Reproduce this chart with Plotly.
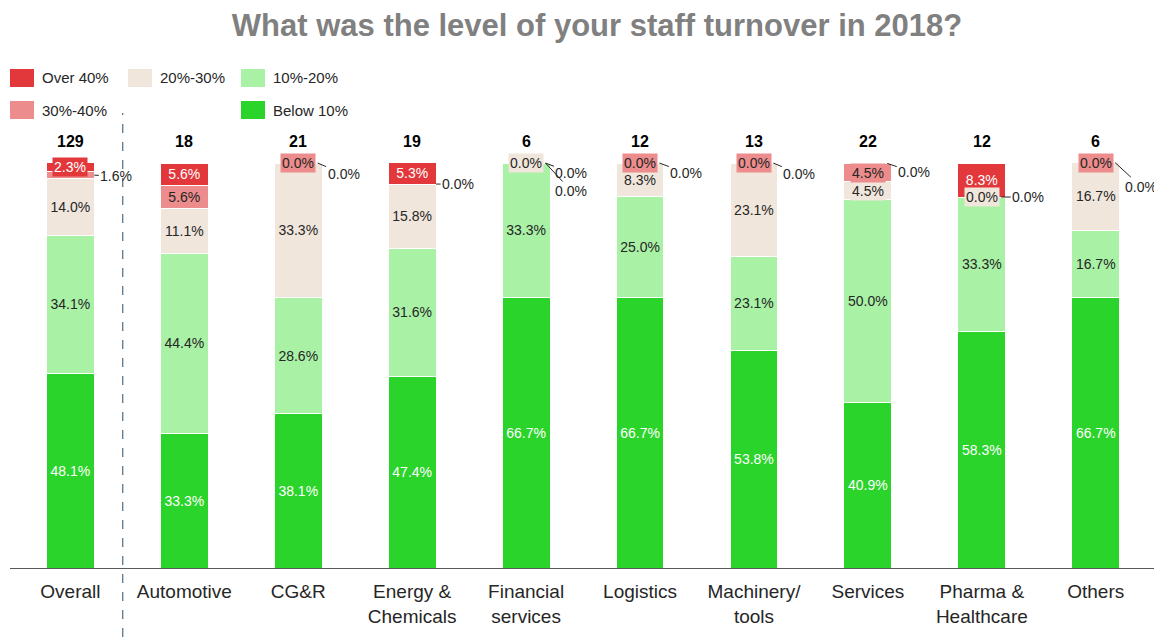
import numpy as np
import plotly.graph_objects as go

# ---------------- data ----------------
categories = ["Overall", "Automotive", "CG&R", "Energy &<br>Chemicals", "Financial<br>services",
              "Logistics", "Machinery/<br>tools", "Services", "Pharma &<br>Healthcare", "Others"]
counts = [129, 18, 21, 19, 6, 12, 13, 22, 12, 6]
below_10 = [48.1, 33.3, 38.1, 47.4, 66.7, 66.7, 53.8, 40.9, 58.3, 66.7]
p10_20 = [34.1, 44.4, 28.6, 31.6, 33.3, 25.0, 23.1, 50.0, 33.3, 16.7]
p20_30 = [14.0, 11.1, 33.3, 15.8, 0.0, 8.3, 23.1, 4.5, 0.0, 16.7]
p30_40 = [1.6, 5.6, 0.0, 0.0, 0.0, 0.0, 0.0, 4.5, 0.0, 0.0]
over_40 = [2.3, 5.6, 0.0, 5.3, 0.0, 0.0, 0.0, 0.0, 8.3, 0.0]

series_names = ["Below 10%", "10%-20%", "20%-30%", "30%-40%", "Over 40%"]
series_values = [below_10, p10_20, p20_30, p30_40, over_40]

# ---------------- styles ----------------
colors = {"Below 10%": "#2bd42b", "10%-20%": "#a9f1a5", "20%-30%": "#f1e6dc",
          "30%-40%": "#ed8c8c", "Over 40%": "#e2383c"}
text_colors = {"Below 10%": "#ffffff", "10%-20%": "#262626", "20%-30%": "#262626",
               "30%-40%": "#262626", "Over 40%": "#ffffff"}
FONT = "Liberation Sans, Arial, sans-serif"
DARK = "#262626"
OFF = 8                      # page body margin offset
W, H = 1162 - OFF, 637 - OFF
ML, MR, MT, MB = 2, 7, 92, 69
YMAX = 115.56
INSIDE_MIN = 5.0
LBL = 14

# small-label placement: (category index, series) -> ("box",) or ("out", tip_dx, ax, ay)
placements = {
    (0, "Over 40%"): ("box",),
    (0, "30%-40%"): ("out", 0.21, 22, 1),
    (2, "30%-40%"): ("box",),
    (2, "Over 40%"): ("out", 0.17, 26, 11),
    (3, "30%-40%"): ("out", 0.21, 22, 0),
    (4, "20%-30%"): ("box",),
    (4, "30%-40%"): ("out", 0.17, 26, 10),
    (4, "Over 40%"): ("out", 0.17, 26, 28),
    (5, "30%-40%"): ("box",),
    (5, "Over 40%"): ("out", 0.17, 27, 10),
    (6, "30%-40%"): ("box",),
    (6, "Over 40%"): ("out", 0.17, 26, 11),
    (7, "20%-30%"): ("box",),
    (7, "30%-40%"): ("box",),
    (7, "Over 40%"): ("out", 0.17, 27, 9),
    (8, "20%-30%"): ("box",),
    (8, "30%-40%"): ("out", 0.17, 27, 0),
    (9, "30%-40%"): ("box",),
    (9, "Over 40%"): ("out", 0.17, 26, 24),
}

x_idx = list(range(len(categories)))
fig = go.Figure()
for name, vals in zip(series_names, series_values):
    txt = [f"{v:.1f}%" if v >= INSIDE_MIN else "" for v in vals]
    fig.add_trace(go.Bar(
        x=x_idx, y=vals, name=name, width=0.42,
        marker=dict(color=colors[name], line=dict(color="white", width=1)),
        text=txt, textposition="inside", insidetextanchor="middle", textangle=0,
        textfont=dict(family=FONT, size=LBL, color=text_colors[name]),
        showlegend=False, hoverinfo="skip",
    ))

annotations = []
shapes = []
arr = np.array(series_values)
cum_top = np.cumsum(arr, axis=0)
cum_bot = cum_top - arr
for s, name in enumerate(series_names):
    for i in x_idx:
        key = (i, name)
        if key not in placements:
            continue
        v = arr[s, i]
        yc = (cum_top[s, i] + cum_bot[s, i]) / 2
        p = placements[key]
        label = f"{v:.1f}%"
        if p[0] == "box":
            annotations.append(dict(x=i, y=yc, xref="x", yref="y", text=label, showarrow=False,
                                    bgcolor=colors[name], borderpad=1,
                                    font=dict(family=FONT, size=LBL, color=text_colors[name])))
        else:
            _, dx, ax, ay = p
            annotations.append(dict(x=i + dx, y=yc, xref="x", yref="y", text=label, showarrow=True,
                                    arrowhead=0, arrowwidth=1, arrowcolor=DARK, ax=ax, ay=ay, standoff=0,
                                    font=dict(family=FONT, size=LBL, color=DARK)))

# counts above bars
for i, c in zip(x_idx, counts):
    annotations.append(dict(x=i, y=105.3, xref="x", yref="y", text=f"<b>{c}</b>", showarrow=False,
                            font=dict(family=FONT, size=16, color="#000000")))


def px_x(px):
    return (px - OFF - ML) / (W - ML - MR)


def px_y(py):
    return (H - MB - (py - OFF)) / (H - MT - MB)


# manual legend (reference pixel positions)
legend_items = [("Over 40%", 10, 78), ("20%-30%", 128, 78), ("10%-20%", 241, 78),
                ("30%-40%", 10, 110), ("Below 10%", 241, 110)]
for name, lx, ly in legend_items:
    shapes.append(dict(type="rect", xref="paper", yref="paper",
                       x0=px_x(lx), x1=px_x(lx + 24), y0=px_y(ly + 9), y1=px_y(ly - 9),
                       fillcolor=colors[name], line=dict(width=0)))
    annotations.append(dict(x=px_x(lx + 30), y=px_y(ly), xref="paper", yref="paper", text=name,
                            showarrow=False, xanchor="left", yanchor="middle",
                            font=dict(family=FONT, size=15, color=DARK)))

# dashed separator
shapes.append(dict(type="line", xref="x", yref="paper", x0=0.46, x1=0.46,
                   y0=px_y(637), y1=px_y(113), line=dict(color="#2a4d69", width=1, dash="dash")))

fig.update_layout(
    width=W, height=H, margin=dict(l=ML, r=MR, t=MT, b=MB),
    paper_bgcolor="white", plot_bgcolor="white",
    barmode="stack",
    title=dict(text="<b>What was the level of your staff turnover in 2018?</b>",
               x=(597 - OFF) / W, xanchor="center", y=1 - (25 - OFF) / H, yanchor="middle",
               font=dict(family=FONT, size=31, color="#808080")),
    xaxis=dict(tickmode="array", tickvals=x_idx, ticktext=categories, range=[-0.53, 9.52],
               showline=True, linecolor="#595959", linewidth=1, ticks="", showgrid=False,
               zeroline=False, ticklabelstandoff=6, automargin=False,
               tickfont=dict(family=FONT, size=19, color=DARK)),
    yaxis=dict(range=[0, YMAX], visible=False, showgrid=False),
    uniformtext=dict(minsize=LBL, mode="show"),
    annotations=annotations, shapes=shapes,
)
fig.write_html("out.html")
